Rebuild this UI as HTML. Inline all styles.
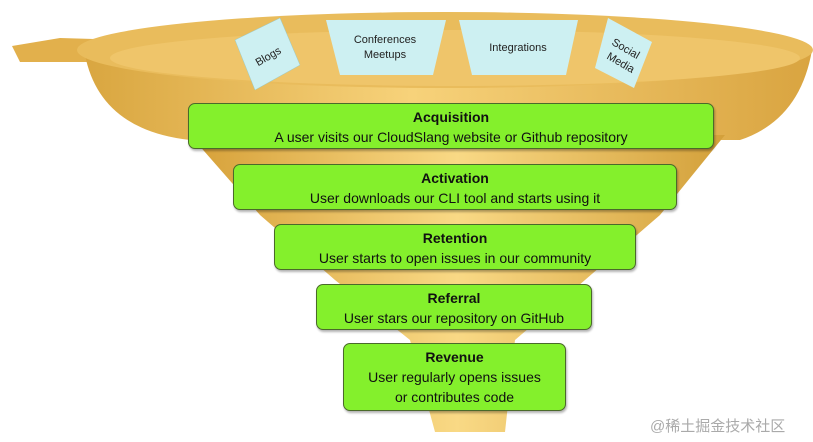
<!DOCTYPE html>
<html><head><meta charset="utf-8"><style>
body{margin:0;background:#fff;width:813px;height:442px;overflow:hidden;font-family:"Liberation Sans","Noto Sans CJK SC",sans-serif}
.b{position:absolute;background:#84f02c;border:1.5px solid #4a6a2a;border-radius:7px;box-sizing:border-box;text-align:center;color:#111;font-size:14px;line-height:20px;box-shadow:1px 2px 2px rgba(0,0,0,.3)}
.b b{display:block;font-size:14px}
</style></head><body>
<svg width="813" height="442" style="position:absolute;left:0;top:0">
<defs>
<linearGradient id="g" x1="0" x2="1"><stop offset="0" stop-color="#d9a640"/><stop offset=".45" stop-color="#f7d27a"/><stop offset="1" stop-color="#d9a440"/></linearGradient>
<linearGradient id="g2" x1="0" x2="1"><stop offset="0" stop-color="#d6a038"/><stop offset=".5" stop-color="#f9d985"/><stop offset="1" stop-color="#d3a03a"/></linearGradient>
</defs>
<path d="M12 46 L60 38 L130 40 L140 62 L20 62 Z" fill="#e2b04c"/>
<path d="M85 55 Q100 130 190 140 L740 140 Q800 120 812 50 Z" fill="url(#g)"/>
<ellipse cx="445" cy="50" rx="368" ry="38" fill="#e9bc5c"/>
<ellipse cx="455" cy="58" rx="345" ry="28" fill="#efc56a"/>
<path d="M190 135 L725 135 L660 215 L585 280 L515 340 L505 432 L435 432 L410 340 L335 280 L260 215 Z" fill="url(#g2)"/>
<g font-size="11" fill="#222" text-anchor="middle">
<polygon points="235,40 280,18 300,65 255,90" fill="#cdf0f2" stroke="#9cc" stroke-width=".5"/>
<text x="268" y="60" transform="rotate(-30 268 56)">Blogs</text>
<polygon points="326,20 446,20 433,75 340,75" fill="#cdf0f2"/>
<text x="385" y="43">Conferences</text><text x="385" y="58">Meetups</text>
<polygon points="459,20 578,20 566,75 472,75" fill="#cdf0f2"/>
<text x="518" y="51">Integrations</text>
<polygon points="608,18 652,42 634,88 595,68" fill="#cdf0f2"/>
<text x="625" y="52" transform="rotate(30 625 50)">Social</text><text x="620" y="66" transform="rotate(30 620 64)">Media</text>
</g>
</svg>
<div class="b" style="left:188px;top:103px;width:526px;height:46px;padding-top:3px"><b>Acquisition</b>A user visits our CloudSlang website or Github repository</div>
<div class="b" style="left:233px;top:164px;width:444px;height:46px;padding-top:3px"><b>Activation</b>User downloads our CLI tool and starts using it</div>
<div class="b" style="left:274px;top:224px;width:362px;height:46px;padding-top:3px"><b>Retention</b>User starts to open issues in our community</div>
<div class="b" style="left:316px;top:284px;width:276px;height:46px;padding-top:3px"><b>Referral</b>User stars our repository on GitHub</div>
<div class="b" style="left:343px;top:343px;width:223px;height:68px;padding-top:3px"><b>Revenue</b>User regularly opens issues<br>or contributes code</div>
<div style="position:absolute;left:650px;top:415px;font-size:15px;color:#aaa">@稀土掘金技术社区</div>
</body></html>
